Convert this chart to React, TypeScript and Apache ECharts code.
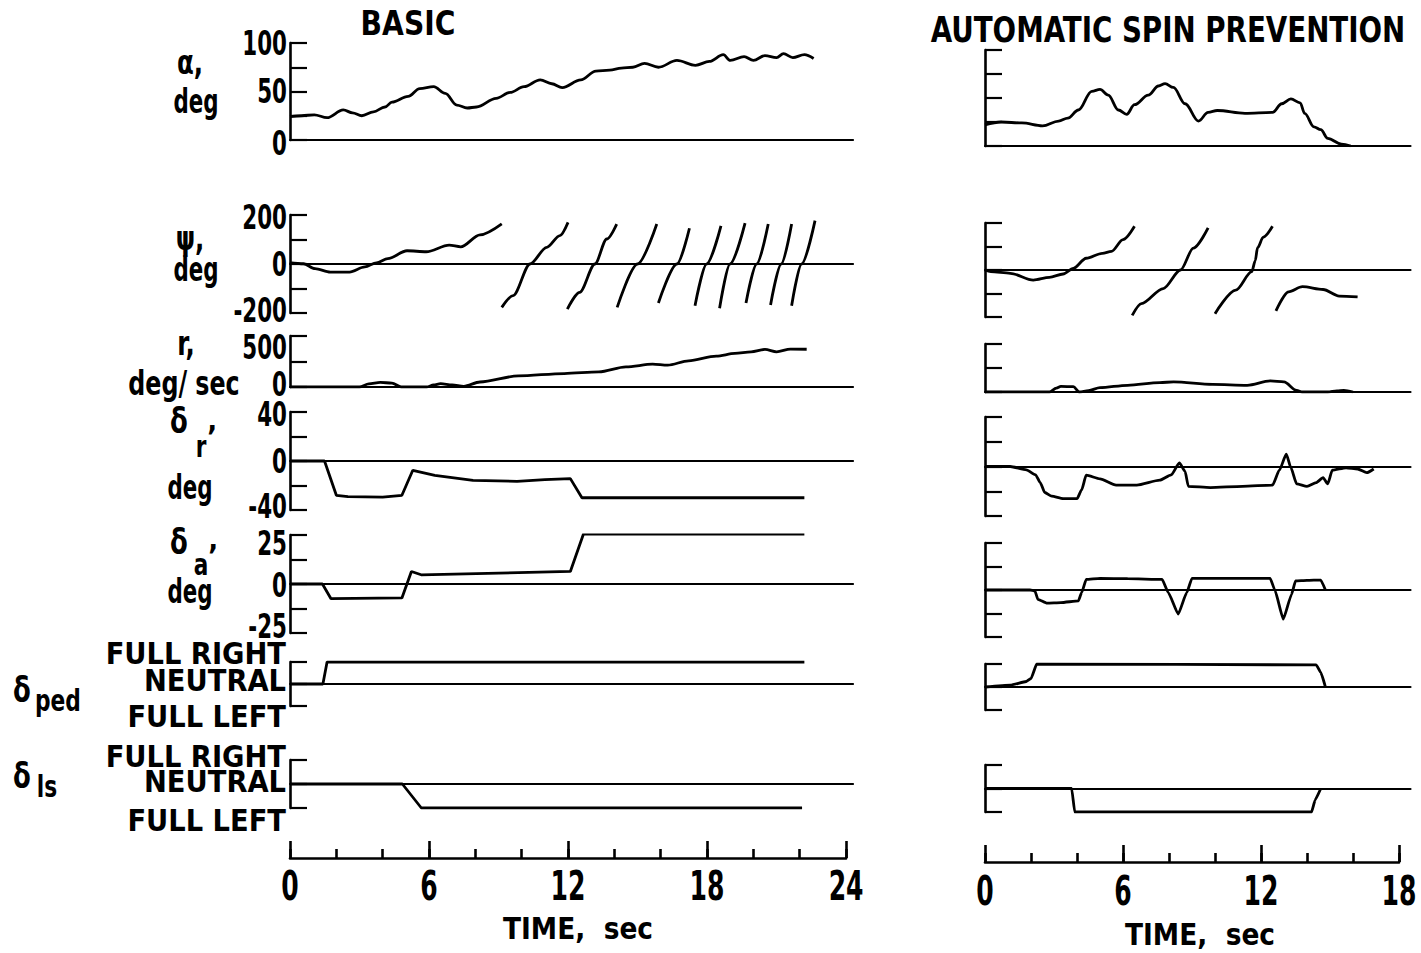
import React, { useEffect, useRef } from "react";
import * as echarts from "echarts";

// ---------- DATA (time in sec, value) ----------
const alphaBasic = [
  [0, 24], [0.5, 25], [1.05, 26], [1.6, 23], [2.3, 31], [2.7, 28], [3.1, 25], [3.6, 29], [4.1, 34], [4.4, 39],
  [5.1, 45], [5.6, 53], [6.2, 55], [6.7, 48], [7.2, 36], [7.65, 33], [8.05, 34], [8.9, 43], [9.5, 49], [10.1, 55],
  [10.8, 62], [11.3, 58], [11.75, 54], [12.55, 62], [13.2, 71], [13.8, 72], [14.3, 74], [14.8, 75], [15.3, 79],
  [15.9, 75], [16.7, 82], [17.5, 77], [18.1, 81], [18.7, 88], [19.0, 82], [19.6, 86], [20.0, 82], [20.5, 87],
  [21.0, 85], [21.3, 89], [21.7, 85], [22.2, 88], [22.6, 84],
];
const alphaSpin = [
  [0, 22], [0.7, 25], [1.6, 24], [2.5, 21], [3.2, 26], [3.6, 29], [4.06, 37.5], [4.64, 57], [5.0, 59], [5.36, 53],
  [5.8, 37.5], [6.16, 33], [6.5, 43], [7.1, 53], [7.54, 62.5], [7.83, 65], [8.19, 61], [8.7, 44], [9.28, 26],
  [9.7, 35], [10.1, 37], [11.3, 34], [12.5, 35], [12.9, 44], [13.3, 49], [13.7, 45], [13.9, 34], [14.3, 20],
  [14.6, 17], [14.9, 8], [15.5, 2], [15.9, 0],
];
const psiBasic = [
  [[0, 3], [0.08, 5], [0.58, 1], [1.08, -19], [1.74, -33], [2.57, -33], [3.23, -12], [3.73, 5], [4.22, 22],
   [5.05, 54], [5.88, 50], [6.87, 77], [7.37, 70], [8.2, 119], [9.14, 164]],
  [[9.14, -177], [9.63, -129], [10.36, 0], [11.08, 68], [11.65, 116], [12.0, 170]],
  [[11.97, -184], [12.5, -116], [13.16, 0], [13.67, 102], [14.1, 163]],
  [[14.12, -177], [15.0, 0], [15.83, 163]],
  [[15.9, -159], [16.7, 0], [17.24, 146]],
  [[17.48, -170], [17.98, 0], [18.6, 156]],
  [[18.54, -181], [18.99, 0], [19.64, 167]],
  [[19.68, -159], [20.14, 0], [20.64, 163]],
  [[20.74, -167], [21.2, 0], [21.65, 163]],
  [[21.65, -170], [22.08, 0], [22.66, 177]],
];
const psiSpin = [
  [[0, 0], [0.25, -7], [1.1, -14], [2.1, -43], [2.8, -31], [3.4, -17], [3.84, 7], [4.4, 50], [5.1, 71],
   [5.5, 79], [6.0, 129], [6.5, 186]],
  [[6.4, -193], [6.8, -143], [7.75, -79], [8.5, 0], [9.06, 93], [9.7, 179]],
  [[10.0, -186], [10.9, -86], [11.6, -7], [11.75, 40], [11.85, 95], [12.1, 140], [12.5, 186]],
  [[12.65, -174], [13.2, -93], [13.8, -71], [14.7, -83], [15.4, -111], [16.2, -114]],
];
const rBasic = [
  [0, 0], [3.0, 0], [3.4, 30], [3.9, 45], [4.4, 38], [4.8, 0], [5.9, 0], [6.2, 20], [6.5, 33], [7.0, 20],
  [7.5, 7], [8.2, 49], [9.85, 109], [11.84, 132], [13.33, 148], [14.5, 197], [15.65, 224], [16.3, 214],
  [17.2, 257], [18.4, 303], [19.2, 329], [19.9, 345], [20.5, 368], [21.0, 345], [21.6, 372], [22.3, 370],
];
const rSpin = [
  [0, 0], [2.8, 0], [3.1, 40], [3.3, 59], [3.84, 55], [4.1, 0], [4.5, 15], [5.0, 45], [6.2, 70], [7.6, 98],
  [8.2, 105], [9.9, 80], [11.4, 70], [12.4, 115], [13.0, 105], [13.55, 17], [13.8, 0], [14.9, 0], [15.3, 12],
  [15.6, 17], [16.0, 0],
];
const deltaRBasic = [
  [0, 0], [1.49, 0], [2.0, -28], [2.5, -29], [4.0, -29.5], [4.83, -28], [5.3, -7.6], [6.25, -11.7],
  [7.9, -15.8], [9.8, -16.6], [11, -15.2], [12.1, -14.4], [12.6, -30], [22.2, -30],
];
const deltaRSpin = [
  [0, 0], [1.1, 0], [1.8, -2.7], [2.2, -6.7], [2.4, -13], [2.6, -21], [2.9, -24], [3.4, -26], [4.0, -26],
  [4.2, -19], [4.4, -7], [5.0, -10], [5.7, -15], [6.6, -15], [7.6, -11], [8.1, -6.7], [8.45, 3], [8.7, -4],
  [8.84, -16], [9.8, -17], [11.2, -16], [12.5, -15], [12.8, -3], [13.1, 10], [13.3, -1], [13.55, -14],
  [14.0, -16], [14.4, -13], [14.7, -9], [14.9, -14], [15.1, -3], [15.7, -1], [16.2, -2], [16.6, -5], [16.9, -2],
];
const deltaABasic = [
  [0, 0], [1.4, 0], [1.77, -7.5], [4.83, -7.1], [5.24, 6.4], [5.66, 4.7], [12.1, 6.4], [12.67, 25.6], [22.2, 25.4],
];
const deltaASpin = [
  [0, 0], [1.96, 0], [2.17, -0.5], [2.3, -5], [2.7, -7], [3.3, -6.7], [4.06, -5.8], [4.2, -1.4], [4.4, 5.6],
  [5.0, 6.2], [6.2, 6], [7.7, 5.6], [7.97, -1.4], [8.4, -12.8], [8.77, -1.4], [9.0, 6.2], [10.5, 6.2],
  [12.4, 6.2], [12.6, 0], [12.97, -15.5], [13.33, -2.3], [13.5, 4.8], [14.0, 5.1], [14.6, 5.3], [14.8, 0],
];
const pedBasic = [[0, 0], [1.42, 0], [1.6, 1], [22.2, 1]];
const pedSpin = [[0, 0], [1.1, 0.08], [1.8, 0.24], [2.0, 0.37], [2.25, 1], [14.4, 0.96], [14.6, 0.63], [14.8, 0]];
const lsBasic = [[0, 0], [4.85, 0], [5.67, -1], [22.1, -1]];
const lsSpin = [[0, 0], [3.77, 0], [3.9, -1], [14.2, -1], [14.35, -0.5], [14.6, 0]];

// tick labels
const alphaTicks = [0, 50, 100];
const psiTicks = [-200, 0, 200];
const rTicks = [0, 500];
const deltaRTicks = [-40, 0, 40];
const deltaATicks = [-25, 0, 25];
const timeLabelsBasic = [0, 6, 12, 18, 24];
const timeLabelsSpin = [0, 6, 12, 18];
const stickLabels = ["FULL RIGHT", "NEUTRAL", "FULL LEFT"];

// ---------- LAYOUT ----------
const FONT = "'DejaVu Sans Condensed','DejaVu Sans',sans-serif";
const BLACK = "#000";
const COLS: any = {
  L: { left: 290, pps: 23.17, xmax: 24.3 },
  R: { left: 985, pps: 23.0, xmax: 18.5 },
};

type Panel = {
  col: "L" | "R"; top: number; height: number; min: number; max: number; interval: number;
  segs: number[][][]; smooth: number | boolean; labels?: number[]; labelDy?: Record<string, number>;
};

const panels: Panel[] = [
  { col: "L", top: 43, height: 97, min: 0, max: 100, interval: 25, segs: [alphaBasic], smooth: 0.35, labels: alphaTicks, labelDy: { "0": 3, "50": 0, "100": 0 } },
  { col: "L", top: 215, height: 98, min: -200, max: 200, interval: 100, segs: psiBasic, smooth: 0.3, labels: psiTicks, labelDy: { "200": 2, "0": 0, "-200": -3 } },
  { col: "L", top: 336, height: 51, min: 0, max: 500, interval: 250, segs: [rBasic], smooth: 0.3, labels: rTicks, labelDy: { "500": 11, "0": -3 } },
  { col: "L", top: 412, height: 98, min: -40, max: 40, interval: 20, segs: [deltaRBasic], smooth: false, labels: deltaRTicks, labelDy: { "40": 2, "0": 0, "-40": -4 } },
  { col: "L", top: 535, height: 98, min: -25, max: 25, interval: 12.5, segs: [deltaABasic], smooth: false, labels: deltaATicks, labelDy: { "25": 8, "0": 1, "-25": -7 } },
  { col: "L", top: 662, height: 44, min: -1, max: 1, interval: 1, segs: [pedBasic], smooth: false },
  { col: "L", top: 760, height: 48, min: -1, max: 1, interval: 1, segs: [lsBasic], smooth: false },
  { col: "R", top: 50, height: 96, min: 0, max: 100, interval: 25, segs: [alphaSpin], smooth: 0.35 },
  { col: "R", top: 223, height: 94, min: -200, max: 200, interval: 100, segs: psiSpin, smooth: 0.3 },
  { col: "R", top: 344, height: 48, min: 0, max: 500, interval: 250, segs: [rSpin], smooth: 0.3 },
  { col: "R", top: 417, height: 99, min: -40, max: 40, interval: 20, segs: [deltaRSpin], smooth: 0.2 },
  { col: "R", top: 543, height: 94, min: -25, max: 25, interval: 12.5, segs: [deltaASpin], smooth: 0.15 },
  { col: "R", top: 664, height: 46, min: -1, max: 1, interval: 1, segs: [pedSpin], smooth: 0.15 },
  { col: "R", top: 765, height: 47, min: -1, max: 1, interval: 1, segs: [lsSpin], smooth: 0.1 },
];

const timeAxes = [
  { range: [0, 24], labels: timeLabelsBasic, left: 290, pps: 23.17, axisY: 858, labelY: 885, titleX: 578, titleY: 928 },
  { range: [0, 18], labels: timeLabelsSpin, left: 985, pps: 23.0, axisY: 862, labelY: 890, titleX: 1200, titleY: 934 },
];

const txt = (text: string, x: number, y: number, size: number, align = "center", sx = 1) => ({
  type: "text", silent: true, x, y, scaleX: sx,
  style: { text, x: 0, y: 0, fill: BLACK, font: `bold ${size}px ${FONT}`, textAlign: align, textVerticalAlign: "middle" },
});

function buildOption() {
  const grid: any[] = [];
  const xAxis: any[] = [];
  const yAxis: any[] = [];
  const series: any[] = [];

  panels.forEach((p, i) => {
    const c = COLS[p.col];
    grid.push({ left: c.left, top: p.top, width: c.xmax * c.pps, height: p.height, containLabel: false, outerBoundsMode: "none" });
    xAxis.push({
      type: "value", gridIndex: i, min: 0, max: c.xmax,
      axisLine: { show: true, onZero: true, lineStyle: { color: BLACK, width: 2.2 } },
      axisTick: { show: false }, axisLabel: { show: false }, splitLine: { show: false },
    });
    yAxis.push({
      type: "value", gridIndex: i, min: p.min, max: p.max, interval: p.interval,
      axisLine: { show: true, onZero: false, lineStyle: { color: BLACK, width: 2.6 } },
      axisTick: { show: true, inside: true, length: 17, lineStyle: { color: BLACK, width: 2.2 } },
      axisLabel: { show: false },
      splitLine: { show: false },
    });
    p.segs.forEach((seg) => {
      series.push({
        type: "line", xAxisIndex: i, yAxisIndex: i, data: seg, symbol: "none", showSymbol: false,
        smooth: p.smooth, smoothMonotone: "x", silent: true, z: 3,
        lineStyle: { color: BLACK, width: 2.8 },
      });
    });
  });

  timeAxes.forEach((ta) => {
    const gi = grid.length;
    const [tmin, tmax] = ta.range;
    grid.push({ left: ta.left, top: ta.axisY - 50, width: (tmax - tmin) * ta.pps, height: 50, containLabel: false, outerBoundsMode: "none" });
    xAxis.push({
      type: "value", gridIndex: gi, min: tmin, max: tmax, interval: 2, position: "bottom",
      axisLine: { show: true, onZero: false, lineStyle: { color: BLACK, width: 2.6 } },
      axisTick: { show: true, inside: true, length: 9, lineStyle: { color: BLACK, width: 2.6 } },
      axisLabel: { show: false }, splitLine: { show: false },
    });
    xAxis.push({
      type: "value", gridIndex: gi, min: tmin, max: tmax, interval: 6, position: "bottom",
      axisLine: { show: false, onZero: false },
      axisTick: { show: true, inside: true, length: 17, lineStyle: { color: BLACK, width: 2.6 } },
      axisLabel: { show: false },
      splitLine: { show: false },
    });
    yAxis.push({ type: "value", gridIndex: gi, min: 0, max: 1, show: false });
  });

  return { animation: false, backgroundColor: "#fff", grid, xAxis, yAxis, series };
}

function buildGraphic(chart: any) {
  const g: any[] = [
    txt("BASIC", 408, 24, 33, "center", 0.95),
    txt("AUTOMATIC SPIN PREVENTION", 1168, 30, 35, "center", 0.88),
    txt("α,", 190, 62, 34, "center", 0.8), txt("deg", 196, 102, 33, "center", 0.72),
    txt("ψ,", 190, 238, 34, "center", 0.8), txt("deg", 196, 270, 33, "center", 0.72),
    txt("r,", 186, 343, 34, "center", 0.8), txt("deg/ sec", 184, 383, 33, "center", 0.8),
    txt("δ", 179, 421, 36, "center", 0.8), txt("r", 201, 447, 30, "center", 0.8), txt("’", 212, 436, 30), txt("deg", 190, 488, 33, "center", 0.72),
    txt("δ", 179, 542, 36, "center", 0.8), txt("a", 201, 565, 30, "center", 0.8), txt("’", 213, 555, 30), txt("deg", 190, 592, 33, "center", 0.72),
    txt("δ", 22, 690, 36, "center", 0.8), txt("ped", 58, 700, 31, "center", 0.78),
    txt("δ", 22, 776, 36, "center", 0.8), txt("ls", 47, 786, 31, "center", 0.78),
    txt(stickLabels[0], 286, 653, 31, "right", 0.98), txt(stickLabels[1], 286, 680, 31, "right", 0.98), txt(stickLabels[2], 286, 716, 31, "right", 0.98),
    txt(stickLabels[0], 286, 756, 31, "right", 0.98), txt(stickLabels[1], 286, 781, 31, "right", 0.98), txt(stickLabels[2], 286, 820, 31, "right", 0.98),
  ];
  // y tick labels, placed through each panel's own y scale
  panels.forEach((p, i) => {
    (p.labels || []).forEach((v) => {
      const py = chart.convertToPixel({ yAxisIndex: i }, v);
      const dy = (p.labelDy && p.labelDy[String(v)]) || 0;
      g.push(txt(String(v), 287, py + dy, 34, "right", 0.7));
    });
  });
  // time labels through the time axis scales
  timeAxes.forEach((ta, k) => {
    const xi = panels.length + 2 * k + 1;
    ta.labels.forEach((v) => {
      const px = chart.convertToPixel({ xAxisIndex: xi }, v);
      g.push(txt(String(v), px, ta.labelY, 41, "center", 0.68));
    });
    g.push(txt("TIME,  sec", ta.titleX, ta.titleY, 30, "center", 0.98));
  });
  return g;
}

export default function App() {
  const ref = useRef<HTMLDivElement>(null);
  useEffect(() => {
    if (!ref.current) return;
    const chart = echarts.init(ref.current, null, { renderer: "svg", width: 1421, height: 953 });
    chart.setOption(buildOption() as any);
    chart.setOption({ graphic: buildGraphic(chart) } as any);
    return () => chart.dispose();
  }, []);
  return (
    <div
      ref={ref}
      style={{ position: "fixed", left: 0, top: 0, width: 1421, height: 953, background: "#fff" }}
    />
  );
}
